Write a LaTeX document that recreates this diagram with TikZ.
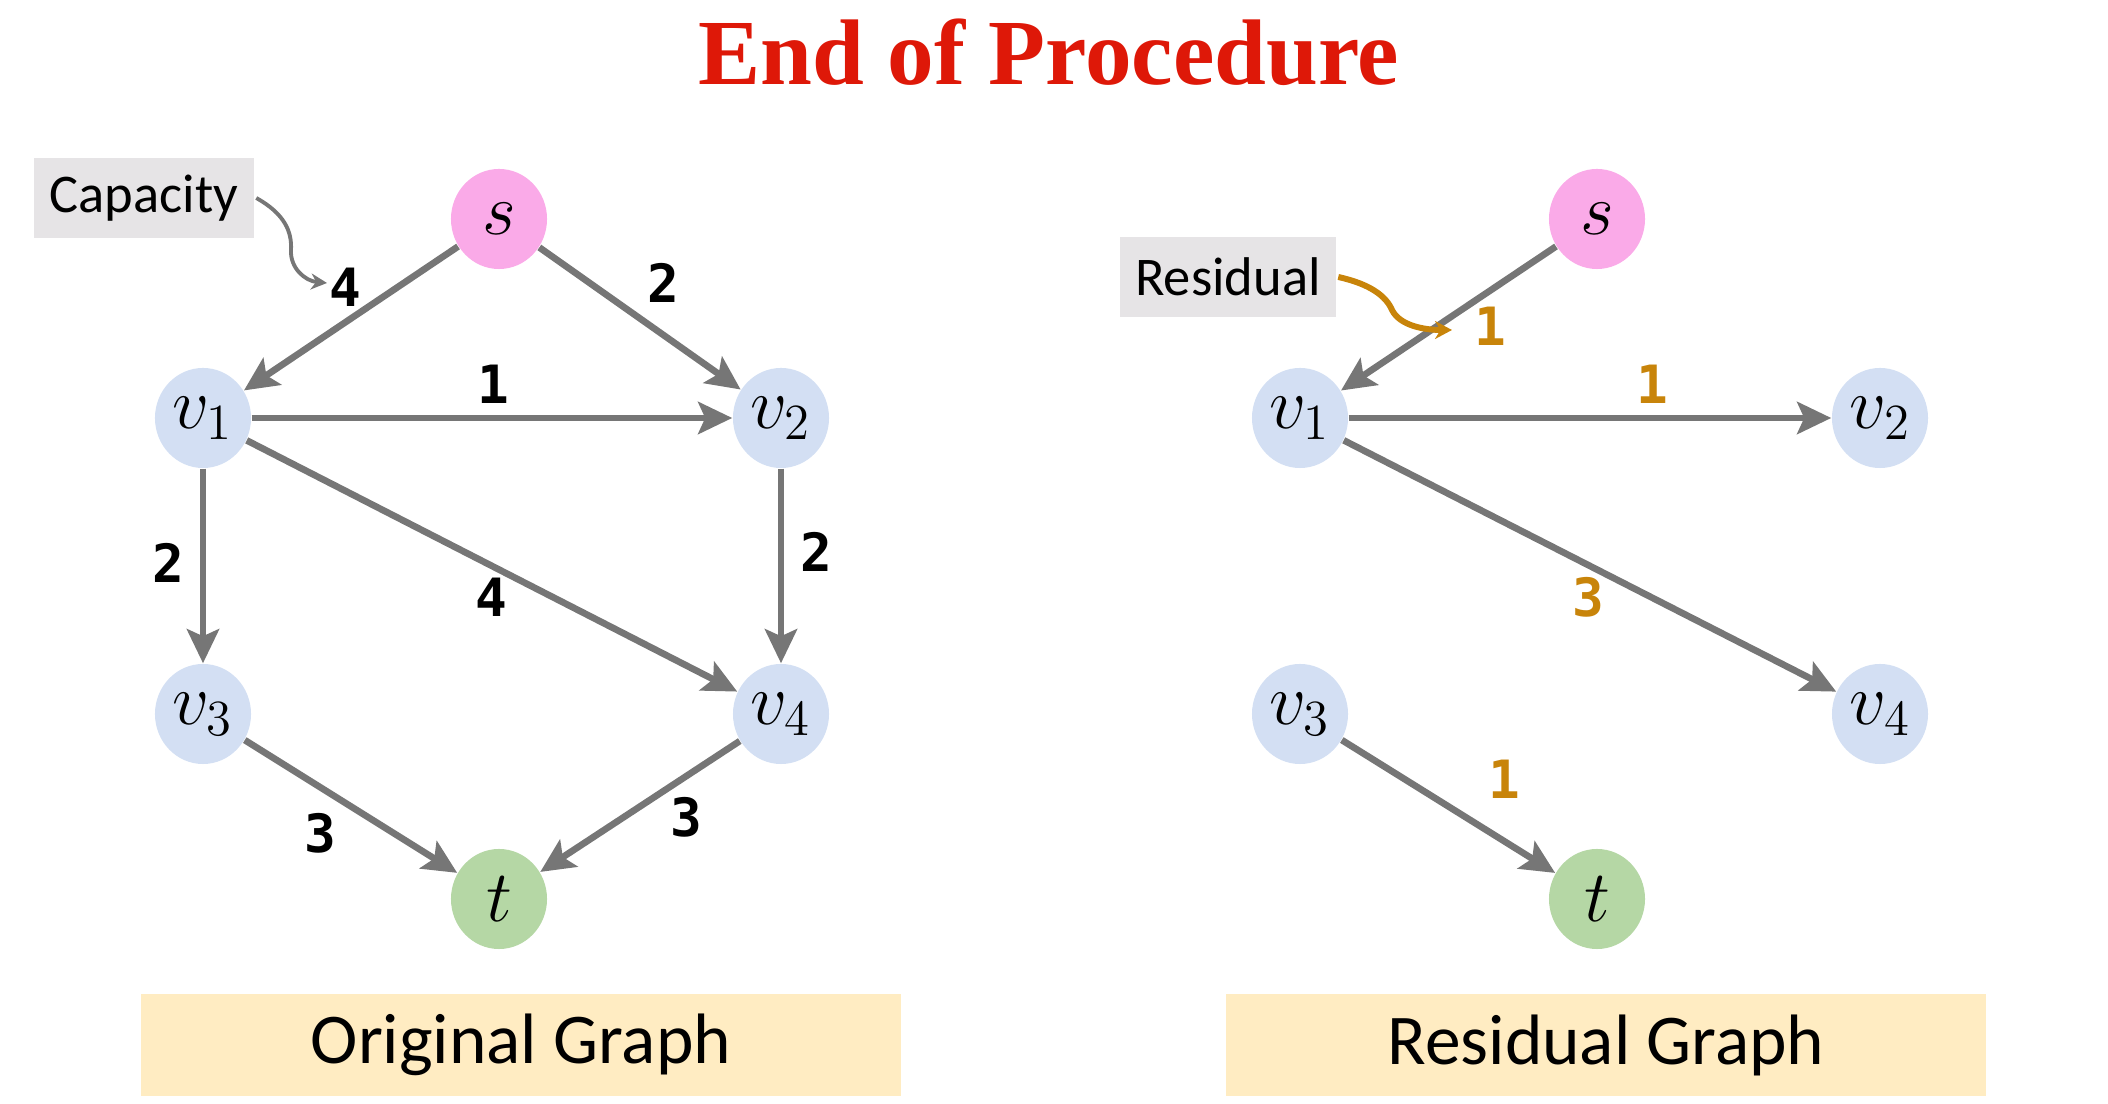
\documentclass[tikz,border=0pt]{standalone}
\usepackage{fontspec}
\setmainfont{Carlito}
\newfontfamily\titlefont{Liberation Serif}
\newfontfamily\numfont{DejaVu Sans Mono}
\usetikzlibrary{arrows.meta,shapes.geometric}
\definecolor{titlered}{RGB}{222,24,8}
\definecolor{edgegray}{RGB}{118,118,118}
\definecolor{spink}{RGB}{250,170,232}
\definecolor{vblue}{RGB}{211,223,243}
\definecolor{tgreen}{RGB}{181,215,165}
\definecolor{boxgray}{RGB}{230,228,230}
\definecolor{capyellow}{RGB}{255,236,194}
\definecolor{resorange}{RGB}{200,132,10}
\tikzset{
  vert/.style={ellipse, minimum width=0.96cm, minimum height=1.0cm, inner sep=0pt, font=\fontsize{22}{22}\selectfont},
  edg/.style={draw=edgegray, line width=1.9pt, -{Stealth[length=0.34cm,width=0.32cm,inset=0.07cm]}},
  lab/.style={font=\numfont\bfseries\fontsize{15}{15}\selectfont, inner sep=0pt},
  rlab/.style={lab, text=resorange},
  tagbox/.style={fill=boxgray, font=\fontsize{15.5}{15.5}\selectfont, inner sep=0pt},
  capbox/.style={fill=capyellow, minimum width=7.6cm, minimum height=1.01cm, inner sep=0pt, font=\fontsize{20.3}{20.3}\selectfont}
}
\begin{document}
\begin{tikzpicture}[x=0.01cm,y=-0.01cm]
\useasboundingbox (0,0) rectangle (2108,1104);
\node[text=titlered, font=\titlefont\bfseries\fontsize{26.5}{26.5}\selectfont] (title) at (1049,52) {End of Procedure};

% Left graph
\node[vert, fill=spink] (s) at (499,219) {$s$};
\node[vert, fill=vblue] (v1) at (203,418) {$v_1$};
\node[vert, fill=vblue] (v2) at (781,418) {$v_2$};
\node[vert, fill=vblue] (v3) at (203,714) {$v_3$};
\node[vert, fill=vblue] (v4) at (781,714) {$v_4$};
\node[vert, fill=tgreen] (t) at (499,899) {$t$};
\draw[edg] (s) -- (v1);
\draw[edg] (s) -- (v2);
\draw[edg] (v1) -- (v2);
\draw[edg] (v1) -- (v3);
\draw[edg] (v1) -- (v4);
\draw[edg] (v2) -- (v4);
\draw[edg] (v3) -- (t);
\draw[edg] (v4) -- (t);
\node[lab] (la) at (345,287) {4};
\node[lab] (lb) at (663,283) {2};
\node[lab] (lc) at (493,384) {1};
\node[lab] (ld) at (168,563) {2};
\node[lab] (le) at (816,552) {2};
\node[lab] (lf) at (491,597) {4};
\node[lab] (lg) at (320,833) {3};
\node[lab] (lh) at (686,817) {3};
\node[tagbox, minimum width=2.19cm, minimum height=0.79cm] (cap) at (144,198) {Capacity};
\coordinate (capend) at (327,283);
\draw[edgegray, line width=1.1pt, -{Stealth[length=0.16cm,width=0.16cm]}] (cap.east) ++(2,0)
  .. controls (285,214) and (292,232) .. (291,250)
  .. controls (290,268) and (305,281) .. (capend);

% Right graph
\node[vert, fill=spink] (rs) at (1597,219) {$s$};
\node[vert, fill=vblue] (rv1) at (1300,418) {$v_1$};
\node[vert, fill=vblue] (rv2) at (1880,418) {$v_2$};
\node[vert, fill=vblue] (rv3) at (1300,714) {$v_3$};
\node[vert, fill=vblue] (rv4) at (1880,714) {$v_4$};
\node[vert, fill=tgreen] (rt) at (1597,899) {$t$};
\draw[edg] (rs) -- (rv1);
\draw[edg] (rv1) -- (rv2);
\draw[edg] (rv1) -- (rv4);
\draw[edg] (rv3) -- (rt);
\node[rlab] (ra) at (1490,326) {1};
\node[rlab] (rb) at (1652,384) {1};
\node[rlab] (rc) at (1588,597) {3};
\node[rlab] (rd) at (1504,779) {1};
\node[tagbox, minimum width=2.15cm, minimum height=0.79cm] (res) at (1228,277) {Residual};
\coordinate (resend) at (1452,330);
\draw[resorange, line width=1.7pt, -{Stealth[length=0.17cm,width=0.18cm]}] (res.east) ++(2,0)
  .. controls (1370,284) and (1386,296) .. (1392,310)
  .. controls (1400,326) and (1425,330) .. (resend);

% Captions
\node[capbox] (og) at (521,1045) {Original Graph};
\node[capbox] (rg) at (1606,1045) {Residual Graph};
\end{tikzpicture}
\end{document}
